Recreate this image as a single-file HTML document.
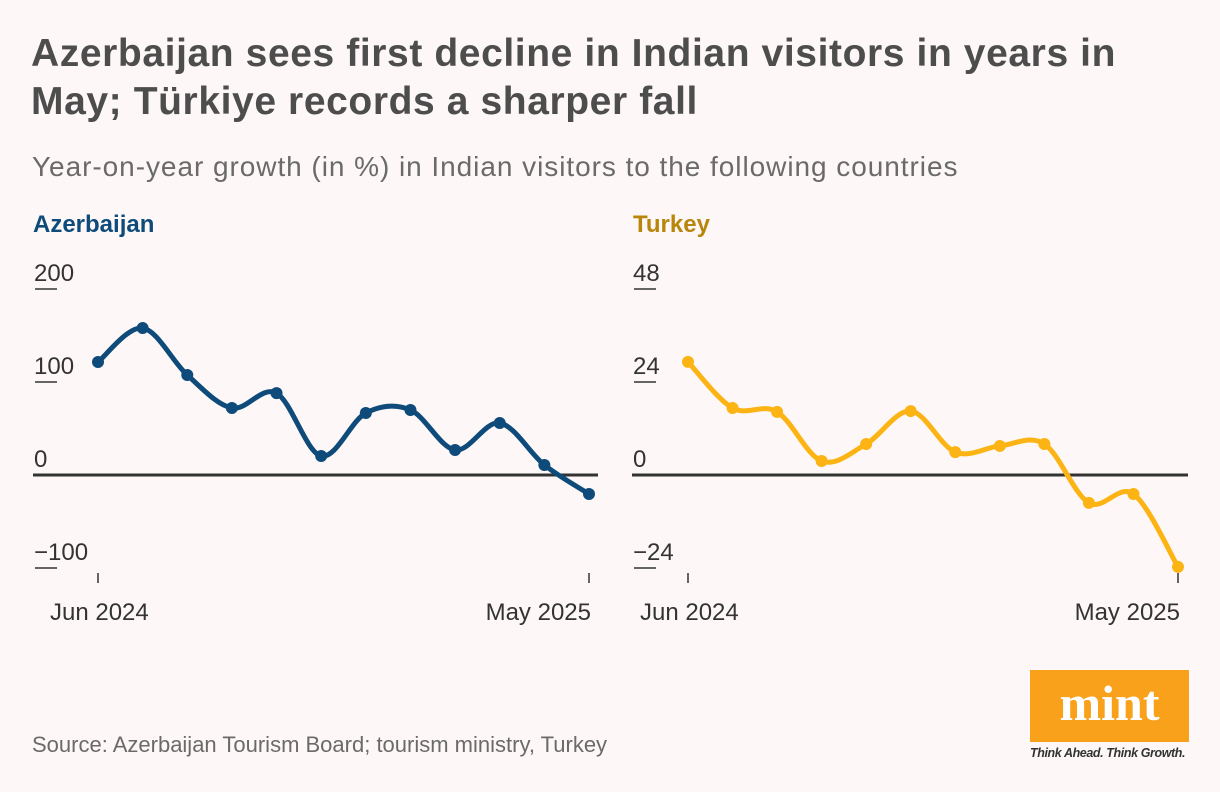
<!DOCTYPE html>
<html><head><meta charset="utf-8"><style>
body{margin:0;background:#fdf8f7;font-family:"Liberation Sans",sans-serif;}
#wrap{position:relative;width:1220px;height:792px;overflow:hidden;}
.t{position:absolute;white-space:nowrap;}
</style></head><body>
<div id="wrap">
<div class="t" style="left:31px;top:30px;font-size:39px;font-weight:bold;color:#4d4d4d;line-height:48px;letter-spacing:0.6px">Azerbaijan sees first decline in Indian visitors in years in<br>May; Türkiye records a sharper fall</div>
<div class="t" style="left:32px;top:151px;font-size:28px;color:#6a6a6a;letter-spacing:0.95px">Year-on-year growth (in %) in Indian visitors to the following countries</div>
<div class="t" style="left:33px;top:211px;font-size:24px;font-weight:bold;color:#0e4a7a">Azerbaijan</div>
<div class="t" style="left:633px;top:211px;font-size:24px;font-weight:bold;color:#b8860b">Turkey</div>
<svg id="svg" width="1220" height="792" style="position:absolute;left:0;top:0"></svg>
<div class="t" style="left:32px;top:732px;font-size:22px;color:#6a6a6a">Source: Azerbaijan Tourism Board; tourism ministry, Turkey</div>
<div style="position:absolute;left:1030px;top:670px;width:159px;height:72px;background:#f9a11b;color:#fff;font-family:'Liberation Serif',serif;font-weight:bold;font-size:50px;text-align:center;line-height:66px">mint</div>
<div class="t" style="left:1030px;top:746px;font-size:12.5px;font-weight:bold;font-style:italic;color:#333;letter-spacing:-0.4px">Think Ahead. Think Growth.</div>
</div>
<script>
const months = ["Jun 2024","Jul","Aug","Sep","Oct","Nov","Dec","Jan","Feb","Mar","Apr","May 2025"];
const azValues = [121.5, 158, 107.5, 72, 88, 20.4, 66.7, 69.9, 26.9, 55.9, 10.8, -20.4];
const trValues = [29.2, 17.3, 16.3, 3.6, 8.0, 16.5, 5.9, 7.5, 8.0, -7.2, -4.9, -23.7];
const azTicks = [200, 100, 0, -100];
const trTicks = [48, 24, 0, -24];
const NS="http://www.w3.org/2000/svg";
const svg=document.getElementById('svg');
function mk(tag,attrs){const e=document.createElementNS(NS,tag);for(const k in attrs)e.setAttribute(k,attrs[k]);svg.appendChild(e);return e;}
function panel(vals,ticks,x0,x1,lineL,lineR,color,name){
  const y0=475, pxPer=93/ticks[1];
  const ys=v=>y0-v*pxPer;
  const xs=i=>x0+(x1-x0)*i/(vals.length-1);
  ticks.forEach(t=>{
    const y=ys(t);
    if(t!==0){const l=mk('line',{x1:lineL+2,x2:lineL+24,y1:y,y2:y,stroke:'#333','stroke-width':1.5});
      
      }
    const tx=mk('text',{x:lineL+1,y:y-8,'font-size':24,fill:'#333','font-family':'Liberation Sans, sans-serif'});
    tx.textContent=t<0?'\u2212'+(-t):String(t);
    
    
  });
  const z=mk('line',{x1:lineL,x2:lineR,y1:y0,y2:y0,stroke:'#333','stroke-width':3});
  
  
  [0,vals.length-1].forEach(i=>{
    const l=mk('line',{x1:xs(i),x2:xs(i),y1:573,y2:583,stroke:'#333','stroke-width':1.5});
    
    
    const first=i===0;
    const tx=mk('text',{x:first?xs(i)-48:xs(i)+2,y:620,'font-size':24,fill:'#333','text-anchor':first?'start':'end','font-family':'Liberation Sans, sans-serif'});
    tx.textContent=months[i];
    
    
  });
  const P=vals.map((v,i)=>[xs(i),ys(v)]);
  let d='M'+P[0][0]+','+P[0][1];
  for(let i=0;i<P.length-1;i++){
    const p0=P[Math.max(i-1,0)],p1=P[i],p2=P[i+1],p3=P[Math.min(i+2,P.length-1)];
    const c1=[p1[0]+(p2[0]-p0[0])/6,p1[1]+(p2[1]-p0[1])/6];
    const c2=[p2[0]-(p3[0]-p1[0])/6,p2[1]-(p3[1]-p1[1])/6];
    d+=` C${c1[0]},${c1[1]} ${c2[0]},${c2[1]} ${p2[0]},${p2[1]}`;
  }
  const path=mk('path',{d:d,fill:'none',stroke:color,'stroke-width':5,'stroke-linecap':'round'});
  
  
  P.forEach(p=>{
    const c=mk('circle',{cx:p[0],cy:p[1],r:6,fill:color});
    
    
  });
}
panel(azValues,azTicks,98,589,33,598,'#0e4a7a','azerbaijan');
panel(trValues,trTicks,688,1178,632,1188,'#fcb415','turkey');
</script>
</body></html>
